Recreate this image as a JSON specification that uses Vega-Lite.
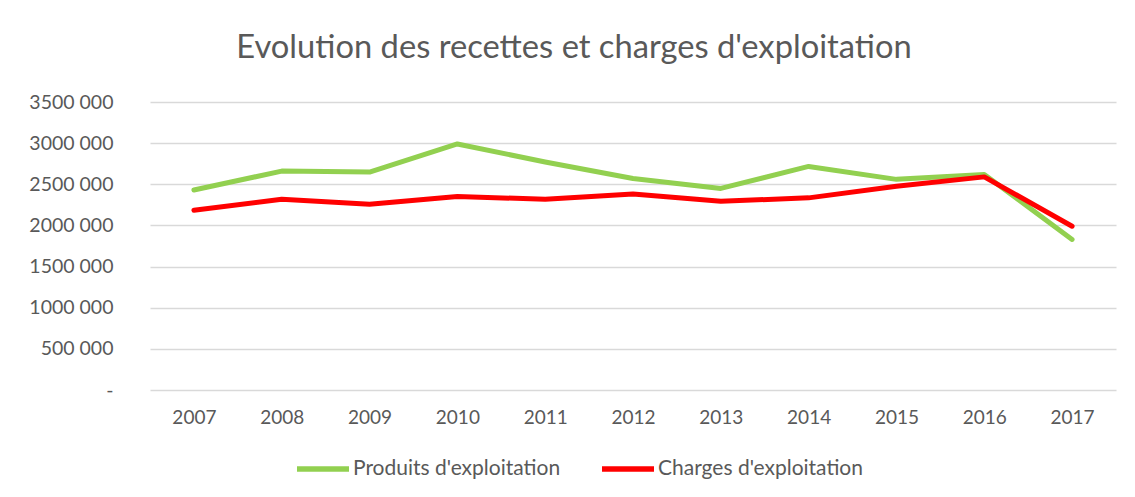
{
  "$schema": "https://vega.github.io/schema/vega-lite/v6.json",
  "width": 966,
  "height": 288,
  "autosize": {"type": "none"},
  "padding": {"left": 150, "top": 102, "right": 19, "bottom": 107},
  "background": "white",
  "title": {
    "text": "Evolution des recettes et charges d'exploitation",
    "font": "Lato",
    "fontSize": 32.7,
    "fontWeight": "normal",
    "color": "#595959",
    "anchor": "middle",
    "dx": -59,
    "offset": 27
  },
  "data": {
    "values": [
      {"annee": "2007", "serie": "Produits d'exploitation", "valeur": 2430000},
      {"annee": "2008", "serie": "Produits d'exploitation", "valeur": 2660000},
      {"annee": "2009", "serie": "Produits d'exploitation", "valeur": 2648000},
      {"annee": "2010", "serie": "Produits d'exploitation", "valeur": 2990000},
      {"annee": "2011", "serie": "Produits d'exploitation", "valeur": 2770000},
      {"annee": "2012", "serie": "Produits d'exploitation", "valeur": 2570000},
      {"annee": "2013", "serie": "Produits d'exploitation", "valeur": 2450000},
      {"annee": "2014", "serie": "Produits d'exploitation", "valeur": 2717000},
      {"annee": "2015", "serie": "Produits d'exploitation", "valeur": 2560000},
      {"annee": "2016", "serie": "Produits d'exploitation", "valeur": 2620000},
      {"annee": "2017", "serie": "Produits d'exploitation", "valeur": 1830000},
      {"annee": "2007", "serie": "Charges d'exploitation", "valeur": 2185000},
      {"annee": "2008", "serie": "Charges d'exploitation", "valeur": 2318000},
      {"annee": "2009", "serie": "Charges d'exploitation", "valeur": 2258000},
      {"annee": "2010", "serie": "Charges d'exploitation", "valeur": 2351000},
      {"annee": "2011", "serie": "Charges d'exploitation", "valeur": 2318000},
      {"annee": "2012", "serie": "Charges d'exploitation", "valeur": 2383000},
      {"annee": "2013", "serie": "Charges d'exploitation", "valeur": 2294000},
      {"annee": "2014", "serie": "Charges d'exploitation", "valeur": 2335000},
      {"annee": "2015", "serie": "Charges d'exploitation", "valeur": 2476000},
      {"annee": "2016", "serie": "Charges d'exploitation", "valeur": 2590000},
      {"annee": "2017", "serie": "Charges d'exploitation", "valeur": 1990000}
    ]
  },
  "mark": {"type": "line", "strokeWidth": 5, "strokeCap": "round", "strokeJoin": "round"},
  "encoding": {
    "x": {
      "field": "annee",
      "type": "ordinal",
      "scale": {"type": "point", "padding": 0.5},
      "axis": {
        "title": null,
        "labelAngle": 0,
        "ticks": false,
        "domain": false,
        "grid": false,
        "labelFont": "Lato",
        "labelFontSize": 19,
        "labelColor": "#595959",
        "labelPadding": 18
      }
    },
    "y": {
      "field": "valeur",
      "type": "quantitative",
      "scale": {"domain": [0, 3500000], "nice": false},
      "axis": {
        "title": null,
        "values": [0, 500000, 1000000, 1500000, 2000000, 2500000, 3000000, 3500000],
        "labelExpr": "datum.value == 0 ? '-\u00a0\u00a0' : (floor(datum.value / 1000) + ' ' + format(datum.value % 1000, '03d'))",
        "ticks": false,
        "domain": false,
        "grid": true,
        "gridColor": "#D9D9D9",
        "gridWidth": 1.5,
        "labelFont": "Lato",
        "labelFontSize": 19.5,
        "labelColor": "#595959",
        "labelPadding": 37
      }
    },
    "color": {
      "field": "serie",
      "type": "nominal",
      "sort": ["Produits d'exploitation", "Charges d'exploitation"],
      "scale": {
        "domain": ["Produits d'exploitation", "Charges d'exploitation"],
        "range": ["#92D050", "#FF0000"]
      },
      "legend": {
        "title": null,
        "orient": "none",
        "direction": "horizontal",
        "legendX": 144,
        "legendY": 338,
        "symbolType": "stroke",
        "symbolSize": 2704,
        "symbolStrokeWidth": 5.5,
        "labelFont": "Lato",
        "labelFontSize": 21,
        "labelColor": "#595959",
        "labelOffset": 1,
        "labelLimit": 400,
        "columnPadding": 30
      }
    }
  },
  "config": {
    "view": {"stroke": null}
  }
}
